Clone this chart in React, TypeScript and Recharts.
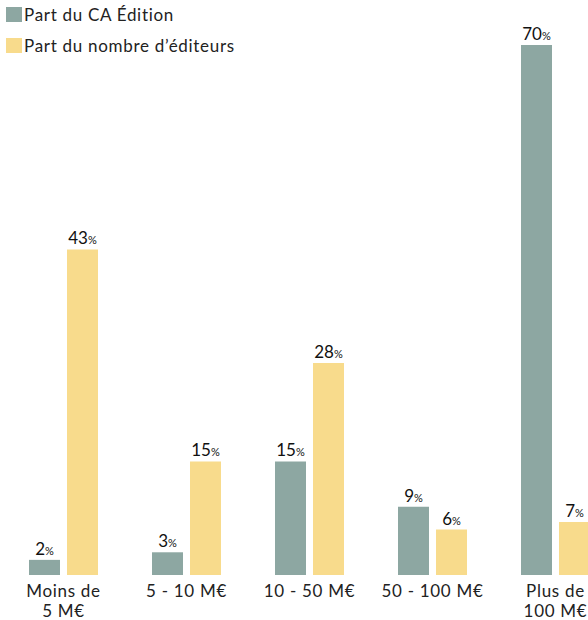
import React from "react";
import { BarChart, Bar, XAxis, YAxis, LabelList, Legend } from "recharts";

const categories = ["Moins de 5 M€", "5 - 10 M€", "10 - 50 M€", "50 - 100 M€", "Plus de 100 M€"];
const caShare = [2, 3, 15, 9, 70];
const publisherShare = [43, 15, 28, 6, 7];

const GREY = "#8da7a2";
const YELLOW = "#f8db8c";
const FONT = "Lato, 'Open Sans', sans-serif";

const data = categories.map((name, i) => ({
  name,
  ca: caShare[i],
  editeurs: publisherShare[i],
}));

const tickLines: Record<string, string[]> = {
  "Moins de 5 M€": ["Moins de", "5 M€"],
  "Plus de 100 M€": ["Plus de", "100 M€"],
};

function CategoryTick(props: any) {
  const { x, y, payload } = props;
  const lines = tickLines[payload.value] || [payload.value];
  return (
    <text x={x} y={y} textAnchor="middle" fill="#222" fontSize={17} letterSpacing={0.7} fontFamily={FONT}>
      {lines.map((l, i) => (
        <tspan key={i} x={x} dy={i === 0 ? 14 : 20}>
          {l}
        </tspan>
      ))}
    </text>
  );
}

function PercentLabel(props: any) {
  const { x, y, width, value } = props;
  return (
    <text x={x + width / 2} y={y - 5} textAnchor="middle" fill="#111" fontFamily={FONT}>
      <tspan fontSize={17}>{value}</tspan>
      <tspan fontSize={11}>%</tspan>
    </text>
  );
}

function LegendBox() {
  const items = [
    { label: "Part du CA Édition", color: GREY },
    { label: "Part du nombre d’éditeurs", color: YELLOW },
  ];
  return (
    <div style={{ fontFamily: FONT, fontSize: 17, letterSpacing: 0.7, color: "#222" }}>
      {items.map((it) => (
        <div key={it.label} style={{ display: "flex", alignItems: "center", height: 31, whiteSpace: "nowrap" }}>
          <span style={{ width: 16, height: 15, background: it.color, marginRight: 2, display: "inline-block" }} />
          {it.label}
        </div>
      ))}
    </div>
  );
}

export default function App() {
  return (
    <div style={{ position: "absolute", left: 0, top: 0, width: 588, height: 620, overflow: "hidden", background: "#fff" }}>
      <BarChart
        width={620}
        height={620}
        data={data}
        margin={{ top: 45, right: 3, bottom: 0, left: 2 }}
        barSize={31}
        barGap={7}
      >
        <XAxis dataKey="name" axisLine={false} tickLine={false} height={45} interval={0} tick={<CategoryTick />} />
        <YAxis hide domain={[0, 70]} />
        <Legend
          layout="vertical"
          align="center"
          verticalAlign="middle"
          wrapperStyle={{ top: -1, left: 6, width: "auto" }}
          content={() => <LegendBox />}
        />
        <Bar dataKey="ca" fill={GREY} isAnimationActive={false}>
          <LabelList dataKey="ca" content={<PercentLabel />} />
        </Bar>
        <Bar dataKey="editeurs" fill={YELLOW} isAnimationActive={false}>
          <LabelList dataKey="editeurs" content={<PercentLabel />} />
        </Bar>
      </BarChart>
    </div>
  );
}
